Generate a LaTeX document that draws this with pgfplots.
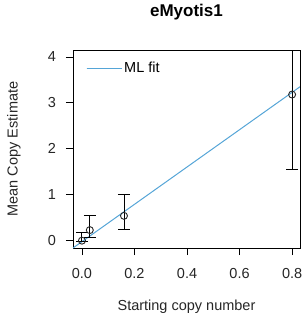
\documentclass[border=0pt]{standalone}
\usepackage{fontspec}
\setmainfont{Liberation Sans}
\usepackage{pgfplots}
\pgfplotsset{compat=1.18}
\definecolor{fitblue}{RGB}{85,165,215}
\begin{document}
\begin{tikzpicture}
\begin{axis}[name=ax,
  scale only axis, width=227pt, height=198pt,
  xmin=-0.034, xmax=0.830, ymin=-0.16, ymax=4.15,
  xtick={0,0.2,...,0.8}, ytick={0,1,2,3,4},
  xticklabels={0.0,0.2,0.4,0.6,0.8},
  /pgf/number format/assume math mode=true,
  tick align=outside, major tick length=7pt,
  xtick pos=bottom, ytick pos=left,
  tick style={black, line width=0.7pt},
  axis line style={black, line width=0.9pt},
  every tick label/.append style={font=\fontsize{14.5}{16}\selectfont, text=black!85},
  xticklabel style={anchor=center, yshift=-19pt},
  yticklabel style={anchor=center, xshift=-14pt},
  xlabel={Starting copy number}, ylabel={Mean Copy Estimate},
  every axis x label/.style={at={(axis description cs:0.5,0)}, yshift=-59pt, anchor=center, font=\fontsize{14.5}{16}\selectfont, text=black!85},
  every axis y label/.style={at={(axis description cs:0,0.5)}, xshift=-59pt, rotate=90, anchor=center, font=\fontsize{14.5}{16}\selectfont, text=black!85},
  title={\textbf{eMyotis1}},
  title style={at={(axis description cs:0.5,1)}, yshift=32pt, anchor=center, font=\fontsize{17}{19}\selectfont},
  legend style={draw=none, fill=none, at={(axis description cs:0,1)}, anchor=north west, xshift=10pt, yshift=-8pt, font=\fontsize{14.5}{16}\selectfont},
  legend image code/.code={\draw[#1] (0pt,0pt) -- (26pt,0pt); \path (0pt,0pt) -- (35pt,0pt);},
]
\addplot[fitblue, line width=1pt] coordinates {(-0.034,-0.160) (0.830,3.350)};
\addlegendentry{ML fit}
\addplot[only marks, mark=o, mark size=3.5pt, mark options={black!85, line width=0.9pt},
  error bars/.cd, y dir=both, y explicit,
  error bar style={black, line width=0.9pt},
  error mark options={rotate=90, mark size=6pt, black, line width=0.9pt}]
  coordinates {
  (0.000,0.00) += (0,0.18) -= (0,0.02)
  (0.030,0.23) += (0,0.32) -= (0,0.15)
  (0.160,0.54) += (0,0.46) -= (0,0.29)
  (0.800,3.18) += (0,0.97) -= (0,1.64)
  };
\end{axis}
\pgfresetboundingbox
\path (ax.south west) ++(-73pt,-73pt) rectangle ([shift={(4pt,50pt)}]ax.north east);
\end{tikzpicture}
\end{document}
